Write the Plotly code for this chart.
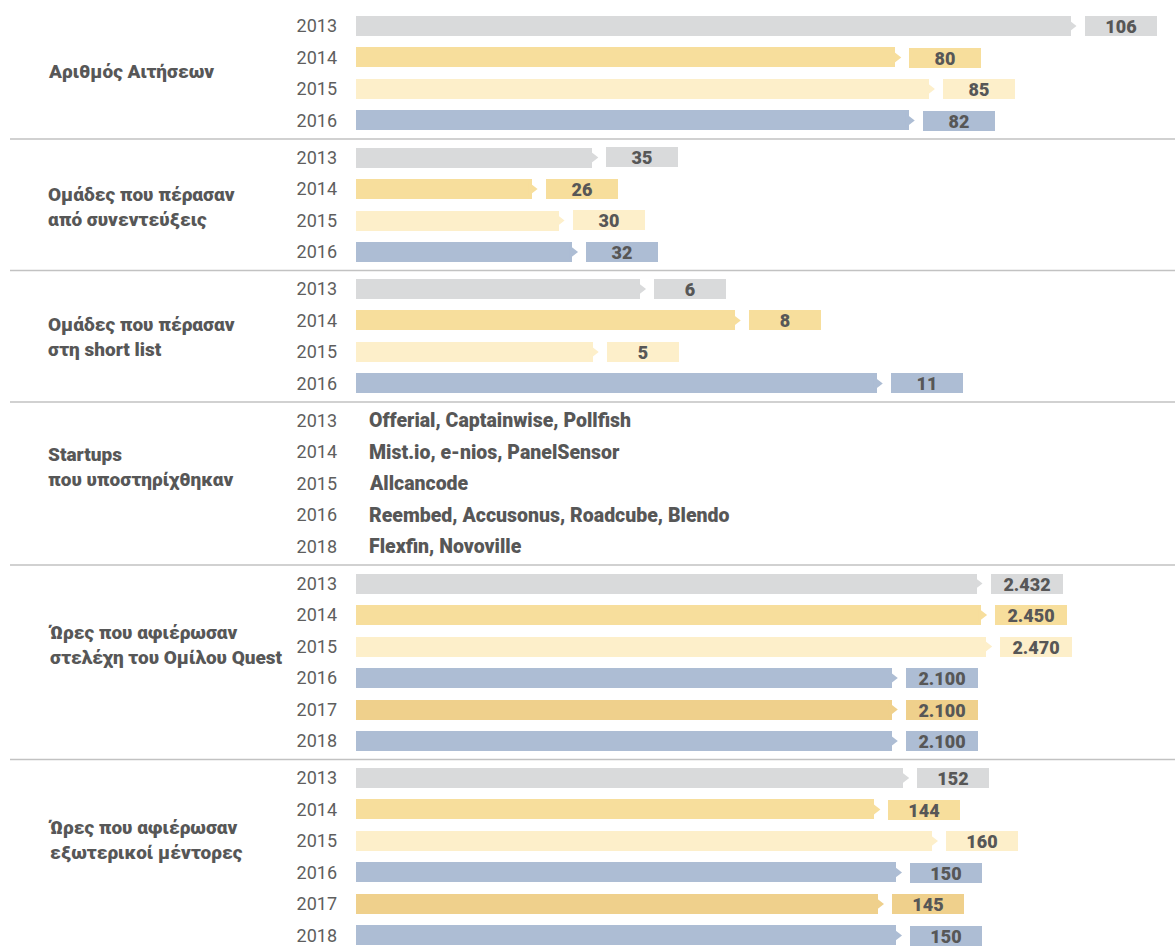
import plotly.graph_objects as go

# --- data -----------------------------------------------------------------
YEARS_APPS = ["2013", "2014", "2015", "2016"]
APPLICATIONS = [106, 80, 85, 82]

YEARS_INTERVIEWS = ["2013", "2014", "2015", "2016"]
INTERVIEWED = [35, 26, 30, 32]

YEARS_SHORTLIST = ["2013", "2014", "2015", "2016"]
SHORTLISTED = [6, 8, 5, 11]

YEARS_STARTUPS = ["2013", "2014", "2015", "2016", "2018"]
STARTUPS = [
    "Offerial, Captainwise, Pollfish",
    "Mist.io, e-nios, PanelSensor",
    "Allcancode",
    "Reembed, Accusonus, Roadcube, Blendo",
    "Flexfin, Novoville",
]

YEARS_HOURS = ["2013", "2014", "2015", "2016", "2017", "2018"]
STAFF_HOURS = [2432, 2450, 2470, 2100, 2100, 2100]
MENTOR_HOURS = [152, 144, 160, 150, 145, 150]

TITLES = [
    "Αριθμός Αιτήσεων",
    "Ομάδες που πέρασαν<br>από συνεντεύξεις",
    "Ομάδες που πέρασαν<br>στη short list",
    "Startups<br>που υποστηρίχθηκαν",
    "Ώρες που αφιέρωσαν<br>στελέχη του Ομίλου Quest",
    "Ώρες που αφιέρωσαν<br>εξωτερικοί μέντορες",
]

# --- style / layout ---------------------------------------------------------
W, H = 1175, 947
PITCH = 31.5        # px between rows
SEP = 37            # px between last row of a section and first row of next
FIRST_ROW = 26      # px, centre of the very first row
BAR_PX = 20
X0 = 356            # px where bars start
TEXT = "#575757"
YEAR_COLORS = {
    "2013": "#d9dadb",
    "2014": "#f7de9c",
    "2015": "#fdefca",
    "2016": "#adbdd4",
    "2017": "#efd08c",
    "2018": "#adbdd4",
}
FONT = "Roboto, Noto Sans, sans-serif"

# each section gets its own x scale (the infographic is not drawn to one scale)
sections = [
    dict(years=YEARS_APPS, values=APPLICATIONS, xmax=121.5, title_y=72),
    dict(years=YEARS_INTERVIEWS, values=INTERVIEWED, xmax=121.3, title_y=207),
    dict(years=YEARS_SHORTLIST, values=SHORTLISTED, xmax=17.3, title_y=337),
    dict(years=YEARS_STARTUPS, names=STARTUPS, xmax=1, title_y=467),
    dict(years=YEARS_HOURS, values=STAFF_HOURS, xmax=3210, title_y=645),
    dict(years=YEARS_HOURS, values=MENTOR_HOURS, xmax=227.5, title_y=840),
]


def fmt(v):
    return f"{v:,}".replace(",", ".")


def hidden_axis(**kw):
    return dict(showgrid=False, zeroline=False, showline=False, ticks="",
                showticklabels=False, fixedrange=True, **kw)


fig = go.Figure()
annotations = []
shapes = []

first = FIRST_ROW
for i, sec in enumerate(sections):
    k = "" if i == 0 else str(i + 1)
    xa, ya = "x" + k, "y" + k
    years = sec["years"]
    n = len(years)
    pos = list(range(n))
    last = first + (n - 1) * PITCH
    top_px = max(0, first - PITCH / 2)
    bot_px = min(H, last + PITCH / 2)
    yr = [(bot_px - first) / PITCH, (top_px - first) / PITCH]

    yax = hidden_axis(domain=[1 - bot_px / H, 1 - top_px / H], anchor=xa, range=yr)
    yax.update(showticklabels=True, tickvals=pos, ticktext=years, ticklabelstandoff=18,
               tickfont=dict(family=FONT, size=18, color="#5e5e5e"))
    fig.update_layout(**{
        "xaxis" + k: hidden_axis(domain=[X0 / W, 1], range=[0, sec["xmax"]], anchor=ya),
        "yaxis" + k: yax,
    })

    if "values" in sec:
        vals = sec["values"]
        cols = [YEAR_COLORS[y] for y in years]
        fig.add_trace(go.Bar(
            x=vals, y=pos, orientation="h", xaxis=xa, yaxis=ya,
            marker=dict(color=cols, line=dict(width=0)),
            width=BAR_PX / PITCH, showlegend=False, hoverinfo="skip",
        ))
        # arrow tip at the end of each bar
        fig.add_trace(go.Scatter(
            x=vals, y=pos, mode="markers", xaxis=xa, yaxis=ya,
            marker=dict(symbol="triangle-right", size=12, color=cols, line=dict(width=0)),
            cliponaxis=False, showlegend=False, hoverinfo="skip",
        ))
        for p, v, c in zip(pos, vals, cols):
            annotations.append(dict(
                x=v, y=p, xref=xa, yref=ya, xanchor="left", yanchor="middle",
                xshift=14, width=72, height=BAR_PX, bgcolor=c, borderpad=0,
                borderwidth=0, showarrow=False, align="center", valign="middle",
                text=fmt(v),
                font=dict(family=FONT, size=18, color=TEXT, weight=900),
            ))
    else:
        fig.add_trace(go.Scatter(
            x=[0] * n, y=pos, mode="markers", xaxis=xa, yaxis=ya,
            marker=dict(opacity=0), showlegend=False, hoverinfo="skip",
        ))
        for p, name in zip(pos, sec["names"]):
            annotations.append(dict(
                x=0, y=p, xref=xa, yref=ya, xanchor="left", yanchor="middle",
                xshift=11, showarrow=False, text=name,
                font=dict(family=FONT, size=19.5, color=TEXT, weight=900),
            ))

    annotations.append(dict(
        x=46 / W, y=1 - sec["title_y"] / H, xref="paper", yref="paper",
        xanchor="left", yanchor="middle", align="left", showarrow=False,
        text=TITLES[i], font=dict(family=FONT, size=19, color=TEXT, weight=900),
    ))

    if i < len(sections) - 1:
        nxt = last + SEP
        sep_y = 1 - ((last + nxt) / 2) / H
        shapes.append(dict(type="line", xref="paper", yref="paper",
                           x0=10 / W, x1=1, y0=sep_y, y1=sep_y,
                           line=dict(color="#c2c2c2", width=1.5)))
        first = nxt

fig.update_layout(
    width=W, height=H, autosize=False,
    margin=dict(l=0, r=0, t=0, b=0),
    paper_bgcolor="white", plot_bgcolor="white",
    annotations=annotations, shapes=shapes,
    bargap=0, showlegend=False,
)

fig.write_html("out.html", config={"displayModeBar": False},
               post_script="document.body.style.margin='0';")
